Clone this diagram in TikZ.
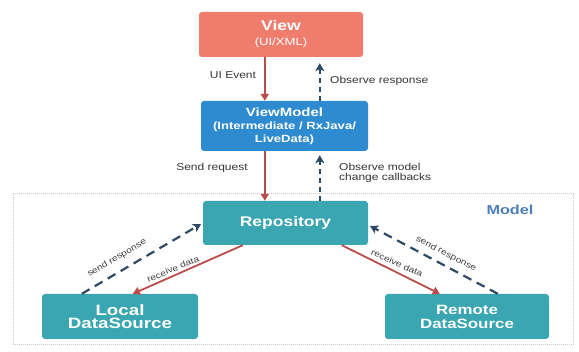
\documentclass[tikz,border=0pt]{standalone}
\usepackage{fontspec}
\setmainfont{Liberation Sans}
\newfontfamily\boxfont[FakeStretch=1.25]{Liberation Sans}
\newfontfamily\labelfont[FakeStretch=1.2]{Liberation Sans}
\usetikzlibrary{arrows.meta}

\definecolor{viewsalmon}{HTML}{EE7D6D}
\definecolor{vmblue}{HTML}{2E8BCF}
\definecolor{repoteal}{HTML}{39A6B2}
\definecolor{arrowred}{HTML}{BA4D4B}
\definecolor{navy}{HTML}{2D4B66}
\definecolor{modelblue}{HTML}{4B7EB8}
\definecolor{framegray}{HTML}{C9C9C9}

\newcommand{\fs}[1]{\fontsize{#1}{#1}\selectfont}

\begin{document}
\begin{tikzpicture}[x=1pt,y=-1pt,
  box/.style={rounded corners=3pt, text=white, align=center, inner sep=0pt,
              font=\boxfont\bfseries},
  lbl/.style={inner sep=0pt, text=black!80, font=\labelfont\fs{10}},
  tiny/.style={inner sep=0pt, text=black!75, font=\labelfont\fs{8.5}},
  redarrow/.style={draw=arrowred, line width=1.8pt,
                   -{Triangle[width=8pt,length=7pt]}},
  navyarrow/.style={draw=navy, line width=2.2pt, dash pattern=on 5pt off 4pt,
                    -{Stealth[width=9pt,length=8pt,inset=2pt]}},
  navydiag/.style={navyarrow, dash pattern=on 9pt off 6pt}]
\useasboundingbox (0,0) rectangle (579,352);

% Model layer frame and its title
\node[draw=framegray, densely dotted, line width=1pt, minimum width=560pt,
      minimum height=151pt, inner sep=0pt] (modelframe) at (293,269.5) {};
\node[inner sep=0pt, text=modelblue, font=\boxfont\bfseries\fs{13}] (model)
      at (510,210) {Model};

% Layer boxes
\node[box, fill=viewsalmon, minimum width=164pt, minimum height=45pt] (view)
      at (281,34.5) {\fs{14}View\\[3pt]\mdseries\fs{10.5}(UI/XML)};
\node[box, fill=vmblue, minimum width=167pt, minimum height=50pt] (vm)
      at (284.5,126) {\fs{12}ViewModel\\[1pt]\fs{10.5}(Intermediate / RxJava/\\[1pt]\fs{10.5}LiveData)};
\node[box, fill=repoteal, minimum width=165pt, minimum height=44pt] (repo)
      at (285.5,223) {\fs{14}Repository};
\node[box, fill=repoteal, minimum width=156pt, minimum height=45pt] (local)
      at (120,316.5) {\fs{15}Local\\[1pt]\fs{15}DataSource};
\node[box, fill=repoteal, minimum width=164pt, minimum height=45pt] (remote)
      at (467,316.5) {\fs{13.5}Remote\\[2pt]\fs{13.5}DataSource};

% View <-> ViewModel
\draw[redarrow] ([xshift=66pt]view.south west) -- ([xshift=64pt]vm.north west);
\draw[navyarrow, shorten >=6pt] ([xshift=119pt]vm.north west) -- ([xshift=121pt]view.south west);
\node[lbl] (uievent) at (233,75) {UI Event};
\node[lbl, anchor=west] (obsresp) at (330,81) {Observe response};

% ViewModel <-> Repository
\draw[redarrow] ([xshift=64pt]vm.south west) -- ([xshift=62pt]repo.north west);
\draw[navyarrow, shorten >=4pt] ([xshift=117pt]repo.north west) -- ([xshift=119pt]vm.south west);
\node[lbl] (sendreq) at (212,168) {Send request};
\node[lbl, anchor=west, align=left] (obsmodel) at (339,173)
      {Observe model\\[-0.5pt]change callbacks};

% Repository <-> data sources
\draw[redarrow] ([xshift=40pt]repo.south west) -- ([xshift=91pt]local.north west);
\draw[navydiag, shorten >=2pt] ([xshift=40pt]local.north west) -- (repo.west);
\draw[redarrow] ([xshift=139pt]repo.south west) -- ([xshift=55pt]remote.north west);
\draw[navydiag, shorten >=2pt] ([xshift=113pt]remote.north west) -- ([yshift=-2pt]repo.east);

\node[tiny, rotate=30.7] (sendl) at (117,258) {send response};
\node[tiny, rotate=22.7] (recvl) at (173,269) {receive data};
\node[tiny, rotate=-27.6] (sendr) at (446,254) {send response};
\node[tiny, rotate=-24.2] (recvr) at (397,263) {receive data};
\end{tikzpicture}
\end{document}
